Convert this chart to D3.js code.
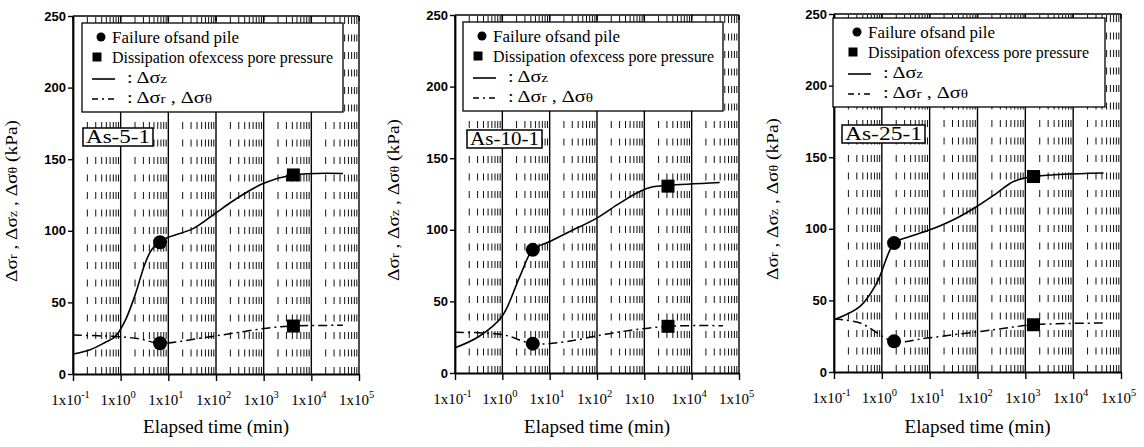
<!DOCTYPE html>
<html>
<head>
<meta charset="utf-8">
<script src="https://cdn.jsdelivr.net/npm/d3@7"></script>
<style>
  html, body { margin: 0; padding: 0; background: #fff; }
  svg { display: block; }
</style>
</head>
<body>
<svg id="chart" width="1144" height="447"></svg>
<script>
// ---------------- DATA ----------------
const panelNames = ["As-5-1", "As-10-1", "As-25-1"];

// Δσz curves (time in min, stress in kPa)
const szTime1 = [0.1, 0.23, 0.47, 0.76, 1.23, 2.0, 3.24, 4.5, 6.7, 9.3, 33, 95, 230, 975, 4200, 46000];
const szVal1  = [14, 17, 22, 26, 37, 55, 77, 87, 92, 95, 101.5, 112, 121, 133, 139, 140];
const szTime2 = [0.1, 0.32, 0.98, 2.35, 4.4, 10.1, 26.7, 97, 302, 800, 1520, 3160, 39000];
const szVal2  = [17.6, 25.5, 39.5, 67.5, 86, 91.8, 98.8, 108, 118.6, 126.7, 130, 131, 133];
const szTime3 = [0.1, 0.35, 0.78, 1.8, 3.06, 10.2, 31.4, 96.7, 253, 565, 1480, 43000];
const szVal3  = [36.5, 45.8, 62, 90, 93.5, 99.3, 106.3, 115.6, 124.9, 133, 136.5, 139];

// Δσr, Δσθ curves
const srTime1 = [0.1, 0.97, 2.5, 6.7, 46, 230, 1150, 4200, 46000];
const srVal1  = [27.2, 26, 24.5, 21.5, 25, 28.5, 32, 33.5, 34];
const srTime2 = [0.1, 1.0, 4.4, 22.7, 219, 3160, 46000];
const srVal2  = [28.4, 26.8, 20.5, 22, 28, 32.6, 33];
const srTime3 = [0.1, 0.35, 1.8, 8.7, 215, 1480, 50000];
const srVal3  = [37, 34.2, 21.4, 23.7, 29.5, 33, 34.2];

// markers: failure of sand pile (circles) and dissipation of excess pore pressure (squares)
const failureTime = [6.7, 4.4, 1.8];
const failureSz   = [92, 86, 90];
const failureSr   = [21.5, 20.5, 21.4];
const dissipTime  = [4200, 3160, 1480];
const dissipSz    = [139, 130.5, 136.5];
const dissipSr    = [33.5, 32.6, 33];

// axis ticks
const yTicks = [0, 50, 100, 150, 200, 250];
const xDecades = [0.1, 1, 10, 100, 1000, 10000, 100000];
const xTickExp1 = ["-1", "0", "1", "2", "3", "4", "5"];
const xTickExp2 = ["-1", "0", "1", "2", "", "4", "5"];
const xTickExp3 = ["-1", "0", "1", "2", "3", "4", "5"];

const legendTexts = ["Failure ofsand pile", "Dissipation ofexcess pore pressure"];
const xTitle = "Elapsed time (min)";

// ---------------- LAYOUT ----------------
const SERIF = "Liberation Serif";
const SANS = "Liberation Sans";
const layout = [
  { L: 73,  R: 359,  T: 16, B: 374, legX: 82,  legY: 23, legW: 261, legIn: 0, labX: 83,  labY: 128, labW: 70 },
  { L: 455, R: 739,  T: 15, B: 373, legX: 463, legY: 22, legW: 260, legIn: 0, labX: 467, labY: 130, labW: 75 },
  { L: 834, R: 1121, T: 14, B: 372, legX: 833, legY: 18, legW: 272, legIn: 5, labX: 842, labY: 125, labW: 83 }
];

const panels = [
  { name: panelNames[0], szT: szTime1, szV: szVal1, srT: srTime1, srV: srVal1, exp: xTickExp1 },
  { name: panelNames[1], szT: szTime2, szV: szVal2, srT: srTime2, srV: srVal2, exp: xTickExp2 },
  { name: panelNames[2], szT: szTime3, szV: szVal3, srT: srTime3, srV: srVal3, exp: xTickExp3 }
];

const svg = d3.select("#chart");
const DASHDOT = "9,4,2,4";

function fit(sel, w) {
  sel.attr("textLength", w).attr("lengthAdjust", "spacingAndGlyphs");
}

function stressLabel(sel, size) {
  const sub = size * 0.72;
  sel.append("tspan").text("Δσ");
  sel.append("tspan").attr("font-size", sub).text("r");
  sel.append("tspan").text(" , Δσ");
  sel.append("tspan").attr("font-size", sub).text("z");
  sel.append("tspan").text(" , Δσ");
  sel.append("tspan").attr("font-size", sub).text("θ");
  sel.append("tspan").text(" (kPa)");
}

panels.forEach((p, i) => {
  const lay = layout[i];
  const x = d3.scaleLog().domain([0.1, 1e5]).range([lay.L, lay.R]);
  const y = d3.scaleLinear().domain([0, 250]).range([lay.B, lay.T]);
  const g = svg.append("g");

  // minor dashed grid
  const minors = [];
  for (let d = 0; d < 6; d++) {
    const base = xDecades[d];
    for (let m = 2; m <= 9; m++) minors.push(base * m);
  }
  g.append("g").selectAll("line").data(minors).join("line")
    .attr("x1", d => x(d)).attr("x2", d => x(d))
    .attr("y1", y(0)).attr("y2", y(250))
    .attr("stroke", "#111").attr("stroke-width", 1)
    .attr("stroke-dasharray", "7,10.5");

  // major decade lines
  g.append("g").selectAll("line").data(xDecades).join("line")
    .attr("x1", d => x(d)).attr("x2", d => x(d))
    .attr("y1", y(0)).attr("y2", y(250))
    .attr("stroke", "#000").attr("stroke-width", 1.4);

  // top frame with inward ticks
  g.append("line").attr("x1", lay.L).attr("x2", lay.R).attr("y1", y(250)).attr("y2", y(250))
    .attr("stroke", "#000").attr("stroke-width", 1.6);
  g.append("g").selectAll("line").data(xDecades).join("line")
    .attr("x1", d => x(d)).attr("x2", d => x(d))
    .attr("y1", y(250)).attr("y2", y(250) + 5)
    .attr("stroke", "#000").attr("stroke-width", 1.4);

  // bottom axis
  const xa = g.append("g").attr("transform", `translate(0,${y(0)})`)
    .call(d3.axisBottom(x).tickValues(xDecades).tickSize(7).tickSizeOuter(0).tickFormat(() => ""));
  xa.select(".domain").attr("stroke-width", 2.2);
  xa.selectAll(".tick line").attr("stroke-width", 1.4);
  xa.selectAll(".tick text").remove();
  xa.selectAll(".tick").each(function (d, k) {
    const t = d3.select(this).append("text")
      .attr("y", 31).attr("x", -3).attr("text-anchor", "middle")
      .attr("font-family", SERIF).attr("font-size", 15).attr("fill", "#000");
    t.append("tspan").text("1x10");
    if (p.exp[k] !== "") {
      t.append("tspan").attr("font-size", 10.5).attr("dy", -7).text(p.exp[k]);
    } else {
      t.append("tspan").attr("font-size", 10.5).attr("dy", -7).attr("fill", "none").text("3");
    }
  });

  // left axis
  const ya = g.append("g").attr("transform", `translate(${lay.L},0)`)
    .call(d3.axisLeft(y).tickValues(yTicks).tickSize(5).tickSizeOuter(0));
  ya.select(".domain").attr("stroke-width", 1.8);
  ya.selectAll(".tick line").attr("stroke-width", 1.4);
  ya.selectAll(".tick text")
    .attr("font-family", SANS)
    .attr("font-weight", "bold").attr("font-size", 13).attr("x", -7);

  // legend box
  const bx = lay.legX, by = lay.legY, ix = lay.legX + lay.legIn;
  const leg = g.append("g").attr("font-family", SERIF);
  leg.append("rect").attr("x", bx).attr("y", by).attr("width", lay.legW).attr("height", 89)
    .attr("fill", "#fff").attr("stroke", "#000").attr("stroke-width", 1.3);
  leg.append("circle").attr("cx", ix + 19).attr("cy", by + 14).attr("r", 4.5).attr("fill", "#000");
  leg.append("text").attr("x", ix + 30).attr("y", by + 19.5).attr("font-family", SERIF)
    .attr("font-size", 16).text(legendTexts[0]).call(fit, 127);
  leg.append("rect").attr("x", ix + 10.5).attr("y", by + 29.5).attr("width", 9).attr("height", 9).attr("fill", "#000");
  leg.append("text").attr("x", ix + 30).attr("y", by + 39.5).attr("font-family", SERIF)
    .attr("font-size", 16).text(legendTexts[1]).call(fit, 221);
  leg.append("line").attr("x1", ix + 10).attr("x2", ix + 33).attr("y1", by + 56).attr("y2", by + 56)
    .attr("stroke", "#000").attr("stroke-width", 1.6);
  const t3 = leg.append("text").attr("x", ix + 45).attr("y", by + 60).attr("font-family", SERIF).attr("font-size", 16);
  t3.append("tspan").text(": Δσ");
  t3.append("tspan").attr("font-size", 12).text("z");
  t3.call(fit, 40);
  leg.append("line").attr("x1", ix + 10).attr("x2", ix + 33).attr("y1", by + 76).attr("y2", by + 76)
    .attr("stroke", "#000").attr("stroke-width", 1.4).attr("stroke-dasharray", "6,4,2,4");
  const t4 = leg.append("text").attr("x", ix + 45).attr("y", by + 80).attr("font-family", SERIF).attr("font-size", 16);
  t4.append("tspan").text(": Δσ");
  t4.append("tspan").attr("font-size", 12).text("r");
  t4.append("tspan").text(" , Δσ");
  t4.append("tspan").attr("font-size", 12).text("θ");
  t4.call(fit, 85);

  // panel label box
  const lab = g.append("g");
  lab.append("rect").attr("x", lay.labX).attr("y", lay.labY).attr("width", lay.labW).attr("height", 18)
    .attr("fill", "#fff").attr("stroke", "#000").attr("stroke-width", 1.5);
  lab.append("text").attr("x", lay.labX + 3).attr("y", lay.labY + 15)
    .attr("font-family", SERIF).attr("font-size", 18).text(p.name).call(fit, lay.labW - 6);

  // curves
  const line = d3.line().x(d => x(d[0])).y(d => y(d[1])).curve(d3.curveCatmullRom.alpha(0.5));
  const szData = p.szT.map((t, k) => [t, p.szV[k]]);
  const srData = p.srT.map((t, k) => [t, p.srV[k]]);
  g.append("path").datum(szData).attr("d", line)
    .attr("fill", "none").attr("stroke", "#000").attr("stroke-width", 1.6);
  g.append("path").datum(srData).attr("d", line)
    .attr("fill", "none").attr("stroke", "#000").attr("stroke-width", 1.5)
    .attr("stroke-dasharray", DASHDOT);

  // markers
  [failureSz[i], failureSr[i]].forEach(v => {
    g.append("circle").attr("cx", x(failureTime[i])).attr("cy", y(v)).attr("r", 7).attr("fill", "#000");
  });
  [dissipSz[i], dissipSr[i]].forEach(v => {
    g.append("rect").attr("x", x(dissipTime[i]) - 6.5).attr("y", y(v) - 6.5)
      .attr("width", 13).attr("height", 13).attr("fill", "#000");
  });

  // axis titles
  svg.append("text").attr("x", (lay.L + lay.R) / 2).attr("y", 433)
    .attr("text-anchor", "middle").attr("font-family", SERIF).attr("font-size", 18)
    .text(xTitle).call(fit, 146);
  const yl = svg.append("text")
    .attr("transform", `translate(${lay.L - 56},${(lay.T + lay.B) / 2 + 6}) rotate(-90)`)
    .attr("text-anchor", "middle").attr("font-family", SERIF).attr("font-size", 17);
  stressLabel(yl, 17);
  yl.call(fit, 162);
});
</script>
</body>
</html>
